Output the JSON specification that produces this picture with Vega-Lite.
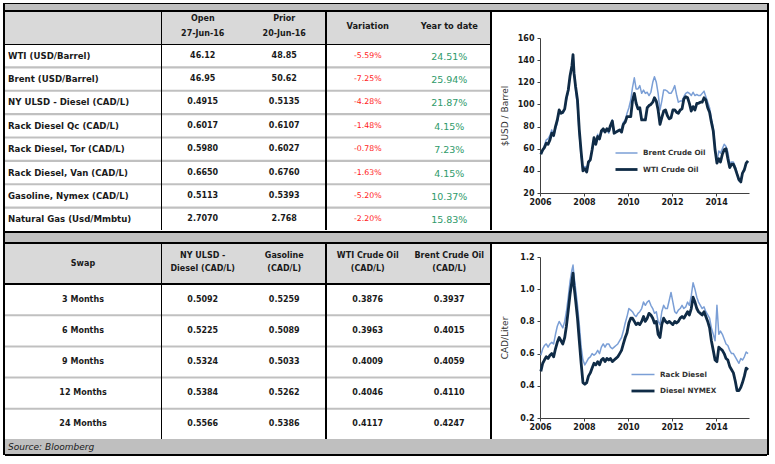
{
"$schema": "https://vega.github.io/schema/vega-lite/v6.json",
"background": "white",
"padding": {"left": 3, "top": 3, "right": 0, "bottom": 0},
"config": {"font": "DejaVu Sans", "view": {"stroke": null}, "concat": {"spacing": 0}},
"datasets": {
"top": [
{"name": "WTI (USD/Barrel)", "open": "46.12", "prior": "48.85", "variation": "-5.59%", "ytd": "24.51%"},
{"name": "Brent (USD/Barrel)", "open": "46.95", "prior": "50.62", "variation": "-7.25%", "ytd": "25.94%"},
{"name": "NY ULSD - Diesel (CAD/L)", "open": "0.4915", "prior": "0.5135", "variation": "-4.28%", "ytd": "21.87%"},
{"name": "Rack Diesel Qc (CAD/L)", "open": "0.6017", "prior": "0.6107", "variation": "-1.48%", "ytd": "4.15%"},
{"name": "Rack Diesel, Tor (CAD/L)", "open": "0.5980", "prior": "0.6027", "variation": "-0.78%", "ytd": "7.23%"},
{"name": "Rack Diesel, Van (CAD/L)", "open": "0.6650", "prior": "0.6760", "variation": "-1.63%", "ytd": "4.15%"},
{"name": "Gasoline, Nymex (CAD/L)", "open": "0.5113", "prior": "0.5393", "variation": "-5.20%", "ytd": "10.37%"},
{"name": "Natural Gas (Usd/Mmbtu)", "open": "2.7070", "prior": "2.768", "variation": "-2.20%", "ytd": "15.83%"}
],
"swap": [
{"tenor": "3 Months", "ulsd": "0.5092", "gasoline": "0.5259", "wti": "0.3876", "brent": "0.3937"},
{"tenor": "6 Months", "ulsd": "0.5225", "gasoline": "0.5089", "wti": "0.3963", "brent": "0.4015"},
{"tenor": "9 Months", "ulsd": "0.5324", "gasoline": "0.5033", "wti": "0.4009", "brent": "0.4059"},
{"tenor": "12 Months", "ulsd": "0.5384", "gasoline": "0.5262", "wti": "0.4046", "brent": "0.4110"},
{"tenor": "24 Months", "ulsd": "0.5566", "gasoline": "0.5386", "wti": "0.4117", "brent": "0.4247"}
],
"crude": [
{"date":"2006-01-15","brent":55,"wti":55},
{"date":"2006-02-15","brent":58,"wti":59},
{"date":"2006-03-15","brent":63,"wti":61},
{"date":"2006-04-15","brent":68,"wti":65},
{"date":"2006-05-15","brent":69,"wti":64},
{"date":"2006-06-15","brent":72,"wti":68},
{"date":"2006-07-15","brent":77,"wti":74},
{"date":"2006-08-15","brent":71,"wti":72},
{"date":"2006-09-15","brent":78,"wti":80},
{"date":"2006-10-15","brent":83,"wti":86},
{"date":"2006-11-15","brent":93,"wti":95},
{"date":"2006-12-15","brent":92,"wti":92},
{"date":"2007-01-15","brent":92,"wti":93},
{"date":"2007-02-15","brent":95,"wti":96},
{"date":"2007-03-15","brent":104,"wti":106},
{"date":"2007-04-15","brent":111,"wti":113},
{"date":"2007-05-15","brent":126,"wti":126},
{"date":"2007-06-15","brent":134,"wti":135},
{"date":"2007-07-03","brent":144,"wti":145},
{"date":"2007-07-20","brent":132,"wti":128},
{"date":"2007-08-15","brent":113,"wti":116},
{"date":"2007-09-15","brent":98,"wti":104},
{"date":"2007-10-15","brent":72,"wti":77},
{"date":"2007-11-15","brent":53,"wti":57},
{"date":"2007-12-15","brent":41,"wti":40},
{"date":"2008-01-15","brent":44,"wti":42},
{"date":"2008-02-15","brent":43,"wti":39},
{"date":"2008-03-15","brent":47,"wti":48},
{"date":"2008-04-15","brent":51,"wti":50},
{"date":"2008-05-15","brent":58,"wti":59},
{"date":"2008-06-15","brent":69,"wti":70},
{"date":"2008-07-15","brent":65,"wti":64},
{"date":"2008-08-15","brent":73,"wti":71},
{"date":"2008-09-15","brent":68,"wti":69},
{"date":"2008-10-15","brent":74,"wti":76},
{"date":"2008-11-15","brent":77,"wti":78},
{"date":"2008-12-15","brent":75,"wti":75},
{"date":"2009-01-15","brent":77,"wti":78},
{"date":"2009-02-15","brent":74,"wti":76},
{"date":"2009-03-15","brent":79,"wti":81},
{"date":"2009-04-15","brent":86,"wti":85},
{"date":"2009-05-15","brent":76,"wti":74},
{"date":"2009-06-15","brent":75,"wti":75},
{"date":"2009-07-15","brent":76,"wti":76},
{"date":"2009-08-15","brent":77,"wti":77},
{"date":"2009-09-15","brent":78,"wti":75},
{"date":"2009-10-15","brent":84,"wti":82},
{"date":"2009-11-15","brent":86,"wti":84},
{"date":"2009-12-15","brent":92,"wti":89},
{"date":"2010-01-15","brent":97,"wti":89},
{"date":"2010-02-15","brent":104,"wti":89},
{"date":"2010-03-15","brent":115,"wti":103},
{"date":"2010-04-15","brent":124,"wti":110},
{"date":"2010-05-15","brent":114,"wti":101},
{"date":"2010-06-15","brent":114,"wti":96},
{"date":"2010-07-15","brent":117,"wti":97},
{"date":"2010-08-15","brent":110,"wti":86},
{"date":"2010-09-15","brent":113,"wti":86},
{"date":"2010-10-15","brent":110,"wti":86},
{"date":"2010-11-15","brent":111,"wti":97},
{"date":"2010-12-15","brent":108,"wti":99},
{"date":"2011-01-15","brent":111,"wti":100},
{"date":"2011-02-15","brent":120,"wti":102},
{"date":"2011-03-15","brent":125,"wti":106},
{"date":"2011-04-15","brent":120,"wti":103},
{"date":"2011-05-15","brent":110,"wti":95},
{"date":"2011-06-15","brent":95,"wti":82},
{"date":"2011-07-15","brent":103,"wti":88},
{"date":"2011-08-15","brent":113,"wti":94},
{"date":"2011-09-15","brent":113,"wti":95},
{"date":"2011-10-15","brent":112,"wti":90},
{"date":"2011-11-15","brent":110,"wti":87},
{"date":"2011-12-15","brent":110,"wti":88},
{"date":"2012-01-15","brent":113,"wti":95},
{"date":"2012-02-15","brent":117,"wti":95},
{"date":"2012-03-15","brent":109,"wti":93},
{"date":"2012-04-15","brent":102,"wti":92},
{"date":"2012-05-15","brent":103,"wti":95},
{"date":"2012-06-15","brent":103,"wti":96},
{"date":"2012-07-15","brent":107,"wti":105},
{"date":"2012-08-15","brent":110,"wti":107},
{"date":"2012-09-15","brent":111,"wti":106},
{"date":"2012-10-15","brent":110,"wti":101},
{"date":"2012-11-15","brent":108,"wti":94},
{"date":"2012-12-15","brent":111,"wti":98},
{"date":"2013-01-15","brent":108,"wti":95},
{"date":"2013-02-15","brent":109,"wti":101},
{"date":"2013-03-15","brent":108,"wti":101},
{"date":"2013-04-15","brent":108,"wti":102},
{"date":"2013-05-15","brent":110,"wti":102},
{"date":"2013-06-15","brent":112,"wti":106},
{"date":"2013-07-15","brent":107,"wti":104},
{"date":"2013-08-15","brent":102,"wti":97},
{"date":"2013-09-15","brent":97,"wti":93},
{"date":"2013-10-15","brent":87,"wti":84},
{"date":"2013-11-15","brent":79,"wti":76},
{"date":"2013-12-15","brent":62,"wti":59},
{"date":"2014-01-15","brent":48,"wti":47},
{"date":"2014-02-15","brent":58,"wti":51},
{"date":"2014-03-15","brent":56,"wti":48},
{"date":"2014-04-15","brent":60,"wti":55},
{"date":"2014-05-15","brent":64,"wti":59},
{"date":"2014-06-15","brent":62,"wti":60},
{"date":"2014-07-15","brent":57,"wti":51},
{"date":"2014-08-15","brent":47,"wti":43},
{"date":"2014-09-15","brent":48,"wti":46},
{"date":"2014-10-15","brent":48,"wti":46},
{"date":"2014-11-15","brent":44,"wti":42},
{"date":"2014-12-15","brent":38,"wti":37},
{"date":"2015-01-15","brent":31,"wti":32},
{"date":"2015-02-15","brent":32,"wti":30},
{"date":"2015-03-15","brent":38,"wti":38},
{"date":"2015-04-15","brent":42,"wti":41},
{"date":"2015-05-15","brent":47,"wti":47},
{"date":"2015-06-15","brent":48,"wti":49}
],
"diesel": [
{"date":"2006-01-15","rack":0.59,"nymex":0.49},
{"date":"2006-02-15","rack":0.63,"nymex":0.54},
{"date":"2006-03-15","rack":0.65,"nymex":0.56},
{"date":"2006-04-15","rack":0.66,"nymex":0.58},
{"date":"2006-05-15","rack":0.64,"nymex":0.57},
{"date":"2006-06-15","rack":0.66,"nymex":0.59},
{"date":"2006-07-15","rack":0.67,"nymex":0.60},
{"date":"2006-08-15","rack":0.66,"nymex":0.58},
{"date":"2006-09-15","rack":0.72,"nymex":0.63},
{"date":"2006-10-15","rack":0.77,"nymex":0.67},
{"date":"2006-11-15","rack":0.80,"nymex":0.70},
{"date":"2006-12-15","rack":0.78,"nymex":0.68},
{"date":"2007-01-15","rack":0.76,"nymex":0.66},
{"date":"2007-02-15","rack":0.80,"nymex":0.70},
{"date":"2007-03-15","rack":0.86,"nymex":0.77},
{"date":"2007-04-15","rack":0.95,"nymex":0.87},
{"date":"2007-05-15","rack":1.05,"nymex":0.97},
{"date":"2007-06-15","rack":1.12,"nymex":1.05},
{"date":"2007-07-03","rack":1.15,"nymex":1.10},
{"date":"2007-07-20","rack":1.08,"nymex":1.02},
{"date":"2007-08-15","rack":1.00,"nymex":0.93},
{"date":"2007-09-15","rack":0.90,"nymex":0.82},
{"date":"2007-10-15","rack":0.78,"nymex":0.68},
{"date":"2007-11-15","rack":0.64,"nymex":0.54},
{"date":"2007-12-15","rack":0.56,"nymex":0.42},
{"date":"2008-01-15","rack":0.53,"nymex":0.41},
{"date":"2008-02-15","rack":0.55,"nymex":0.42},
{"date":"2008-03-15","rack":0.57,"nymex":0.46},
{"date":"2008-04-15","rack":0.58,"nymex":0.48},
{"date":"2008-05-15","rack":0.60,"nymex":0.51},
{"date":"2008-06-15","rack":0.59,"nymex":0.54},
{"date":"2008-07-15","rack":0.60,"nymex":0.53},
{"date":"2008-08-15","rack":0.62,"nymex":0.55},
{"date":"2008-09-15","rack":0.60,"nymex":0.53},
{"date":"2008-10-15","rack":0.64,"nymex":0.56},
{"date":"2008-11-15","rack":0.66,"nymex":0.57},
{"date":"2008-12-15","rack":0.64,"nymex":0.55},
{"date":"2009-01-15","rack":0.66,"nymex":0.57},
{"date":"2009-02-15","rack":0.66,"nymex":0.56},
{"date":"2009-03-15","rack":0.64,"nymex":0.57},
{"date":"2009-04-15","rack":0.63,"nymex":0.55},
{"date":"2009-05-15","rack":0.64,"nymex":0.56},
{"date":"2009-06-15","rack":0.65,"nymex":0.57},
{"date":"2009-07-15","rack":0.66,"nymex":0.58},
{"date":"2009-08-15","rack":0.68,"nymex":0.60},
{"date":"2009-09-15","rack":0.70,"nymex":0.62},
{"date":"2009-10-15","rack":0.74,"nymex":0.66},
{"date":"2009-11-15","rack":0.79,"nymex":0.70},
{"date":"2009-12-15","rack":0.83,"nymex":0.73},
{"date":"2010-01-15","rack":0.88,"nymex":0.79},
{"date":"2010-02-15","rack":0.87,"nymex":0.82},
{"date":"2010-03-15","rack":0.86,"nymex":0.82},
{"date":"2010-04-15","rack":0.84,"nymex":0.80},
{"date":"2010-05-15","rack":0.83,"nymex":0.78},
{"date":"2010-06-15","rack":0.85,"nymex":0.79},
{"date":"2010-07-15","rack":0.86,"nymex":0.78},
{"date":"2010-08-15","rack":0.88,"nymex":0.80},
{"date":"2010-09-15","rack":0.92,"nymex":0.83},
{"date":"2010-10-15","rack":0.90,"nymex":0.80},
{"date":"2010-11-15","rack":0.92,"nymex":0.82},
{"date":"2010-12-15","rack":0.93,"nymex":0.85},
{"date":"2011-01-15","rack":0.90,"nymex":0.84},
{"date":"2011-02-15","rack":0.88,"nymex":0.82},
{"date":"2011-03-15","rack":0.85,"nymex":0.79},
{"date":"2011-04-15","rack":0.86,"nymex":0.80},
{"date":"2011-05-15","rack":0.80,"nymex":0.72},
{"date":"2011-06-15","rack":0.78,"nymex":0.70},
{"date":"2011-07-15","rack":0.86,"nymex":0.78},
{"date":"2011-08-15","rack":0.90,"nymex":0.82},
{"date":"2011-09-15","rack":0.88,"nymex":0.80},
{"date":"2011-10-15","rack":0.88,"nymex":0.79},
{"date":"2011-11-15","rack":0.93,"nymex":0.80},
{"date":"2011-12-15","rack":0.98,"nymex":0.79},
{"date":"2012-01-15","rack":0.92,"nymex":0.78},
{"date":"2012-02-15","rack":0.86,"nymex":0.80},
{"date":"2012-03-15","rack":0.85,"nymex":0.79},
{"date":"2012-04-15","rack":0.87,"nymex":0.80},
{"date":"2012-05-15","rack":0.88,"nymex":0.82},
{"date":"2012-06-15","rack":0.90,"nymex":0.83},
{"date":"2012-07-15","rack":0.88,"nymex":0.82},
{"date":"2012-08-15","rack":0.89,"nymex":0.84},
{"date":"2012-09-15","rack":0.92,"nymex":0.86},
{"date":"2012-10-15","rack":0.90,"nymex":0.84},
{"date":"2012-11-15","rack":0.96,"nymex":0.88},
{"date":"2012-12-15","rack":1.04,"nymex":0.95},
{"date":"2013-01-15","rack":1.00,"nymex":0.92},
{"date":"2013-02-15","rack":0.95,"nymex":0.88},
{"date":"2013-03-15","rack":0.92,"nymex":0.86},
{"date":"2013-04-15","rack":0.90,"nymex":0.85},
{"date":"2013-05-15","rack":0.88,"nymex":0.84},
{"date":"2013-06-15","rack":0.89,"nymex":0.86},
{"date":"2013-07-15","rack":0.86,"nymex":0.83},
{"date":"2013-08-15","rack":0.84,"nymex":0.80},
{"date":"2013-09-15","rack":0.82,"nymex":0.76},
{"date":"2013-10-15","rack":0.76,"nymex":0.68},
{"date":"2013-11-15","rack":0.72,"nymex":0.62},
{"date":"2013-12-15","rack":0.68,"nymex":0.56},
{"date":"2014-01-15","rack":0.90,"nymex":0.55},
{"date":"2014-02-15","rack":0.72,"nymex":0.64},
{"date":"2014-03-15","rack":0.74,"nymex":0.63},
{"date":"2014-04-15","rack":0.72,"nymex":0.62},
{"date":"2014-05-15","rack":0.69,"nymex":0.60},
{"date":"2014-06-15","rack":0.66,"nymex":0.57},
{"date":"2014-07-15","rack":0.65,"nymex":0.56},
{"date":"2014-08-15","rack":0.62,"nymex":0.52},
{"date":"2014-09-15","rack":0.60,"nymex":0.50},
{"date":"2014-10-15","rack":0.60,"nymex":0.48},
{"date":"2014-11-15","rack":0.58,"nymex":0.43},
{"date":"2014-12-15","rack":0.56,"nymex":0.37},
{"date":"2015-01-15","rack":0.54,"nymex":0.37},
{"date":"2015-02-15","rack":0.57,"nymex":0.39},
{"date":"2015-03-15","rack":0.56,"nymex":0.42},
{"date":"2015-04-15","rack":0.58,"nymex":0.46},
{"date":"2015-05-15","rack":0.61,"nymex":0.51},
{"date":"2015-06-15","rack":0.60,"nymex":0.50}
],
"none": []
},
"spacing": 0,
"resolve": {"scale": {"color": "independent", "strokeWidth": "independent"}, "legend": {"color": "independent", "strokeWidth": "independent"}},
"hconcat": [
{"width": 2, "height": 452, "data": {"name": "none"}, "view": {"fill": "black"}, "mark": {"type": "text"}, "encoding": {}},
{"spacing": 0, "resolve": {"scale": {"color": "independent", "strokeWidth": "independent"}, "legend": {"color": "independent", "strokeWidth": "independent"}}, "vconcat": [
  {"width": 762, "height": 1, "data": {"name": "none"}, "view": {"fill": "black"}, "mark": {"type": "text"}, "encoding": {}},
  {"width": 762, "height": 6, "data": {"name": "none"}, "view": {"fill": "#c0c0c0"}, "mark": {"type": "text"}, "encoding": {}},
  {"width": 762, "height": 2, "data": {"name": "none"}, "view": {"fill": "black"}, "mark": {"type": "text"}, "encoding": {}},
  {"spacing": 0, "resolve": {"scale": {"color": "independent", "strokeWidth": "independent"}, "legend": {"color": "independent", "strokeWidth": "independent"}}, "hconcat": [
    {"spacing": 0, "vconcat": [
      {"spacing": 0, "hconcat": [
        {"width": 156, "height": 32, "data": {"name": "none"}, "view": {"fill": "#d9d9d9"}, "mark": {"type": "text"}, "encoding": {}},
        {"width": 1, "height": 32, "data": {"name": "none"}, "view": {"fill": "black"}, "mark": {"type": "text"}, "encoding": {}},
        {"width": 163, "height": 32, "data": {"values": [{"col": "open", "label": "Open\n27-Jun-16"}, {"col": "prior", "label": "Prior\n20-Jun-16"}]}, "view": {"fill": "#d9d9d9"},
         "mark": {"type": "text", "lineBreak": "\n", "lineHeight": 15, "fontSize": 8, "fontWeight": "bold", "color": "#1a1a1a", "dy": -9},
         "encoding": {"x": {"field": "col", "type": "nominal", "sort": null, "scale": {"type": "band", "paddingInner": 0, "paddingOuter": 0}, "axis": null}, "text": {"field": "label"}}},
        {"width": 2, "height": 32, "data": {"name": "none"}, "view": {"fill": "black"}, "mark": {"type": "text"}, "encoding": {}},
        {"width": 163, "height": 32, "data": {"values": [{"col": "variation", "label": "Variation"}, {"col": "ytd", "label": "Year to date"}]}, "view": {"fill": "#d9d9d9"},
         "mark": {"type": "text", "fontSize": 8.3, "fontWeight": "bold", "color": "#1a1a1a", "dy": -1},
         "encoding": {"x": {"field": "col", "type": "nominal", "sort": null, "scale": {"type": "band", "paddingInner": 0, "paddingOuter": 0}, "axis": null}, "text": {"field": "label"}}}
      ]},
      {"width": 485, "height": 1, "data": {"name": "none"}, "view": {"fill": "black"}, "mark": {"type": "text"}, "encoding": {}},
      {"spacing": 0, "hconcat": [
        {"width": 156, "height": 185, "data": {"name": "top"}, "view": {"fill": "#c0c0c0"},
         "layer": [
          {"mark": {"type": "rect", "color": "white"},
           "encoding": {"y": {"field": "name", "type": "nominal", "sort": null, "scale": {"type": "band", "paddingInner": 0.0856, "paddingOuter": 0}, "axis": null}}},
          {"mark": {"type": "text", "align": "left", "dx": 3, "fontSize": 8.6, "fontWeight": "bold", "color": "#1a1a1a"},
           "encoding": {"x": {"value": 0}, "y": {"field": "name", "type": "nominal", "sort": null, "axis": null}, "text": {"field": "name"}}}
         ]},
        {"width": 1, "height": 185, "data": {"name": "none"}, "view": {"fill": "black"}, "mark": {"type": "text"}, "encoding": {}},
        {"width": 163, "height": 185, "data": {"name": "top"}, "view": {"fill": "#c0c0c0"},
         "layer": [
          {"mark": {"type": "rect", "color": "white"},
           "encoding": {"y": {"field": "name", "type": "nominal", "sort": null, "scale": {"type": "band", "paddingInner": 0.0856, "paddingOuter": 0}, "axis": null}}},
          {"mark": {"type": "text", "fontSize": 8, "fontWeight": "bold", "color": "#1a1a1a"},
           "encoding": {"x": {"datum": "open", "type": "nominal", "scale": {"type": "band", "paddingInner": 0, "paddingOuter": 0}, "axis": null}, "y": {"field": "name", "type": "nominal", "sort": null, "axis": null}, "text": {"field": "open"}}},
          {"mark": {"type": "text", "fontSize": 8, "fontWeight": "bold", "color": "#1a1a1a"},
           "encoding": {"x": {"datum": "prior", "type": "nominal", "axis": null}, "y": {"field": "name", "type": "nominal", "sort": null, "axis": null}, "text": {"field": "prior"}}}
         ]},
        {"width": 2, "height": 185, "data": {"name": "none"}, "view": {"fill": "black"}, "mark": {"type": "text"}, "encoding": {}},
        {"width": 163, "height": 185, "data": {"name": "top"}, "view": {"fill": "#c0c0c0"},
         "layer": [
          {"mark": {"type": "rect", "color": "white"},
           "encoding": {"y": {"field": "name", "type": "nominal", "sort": null, "scale": {"type": "band", "paddingInner": 0.0856, "paddingOuter": 0}, "axis": null}}},
          {"mark": {"type": "text", "fontSize": 7.8, "color": "#ff1a1a"},
           "encoding": {"x": {"datum": "variation", "type": "nominal", "scale": {"type": "band", "paddingInner": 0, "paddingOuter": 0}, "axis": null}, "y": {"field": "name", "type": "nominal", "sort": null, "axis": null}, "text": {"field": "variation"}}},
          {"mark": {"type": "text", "fontSize": 9.5, "color": "#2e9a6a", "dy": 1},
           "encoding": {"x": {"datum": "ytd", "type": "nominal", "axis": null}, "y": {"field": "name", "type": "nominal", "sort": null, "axis": null}, "text": {"field": "ytd"}}}
         ]}
      ]}
    ]},
    {"width": 2, "height": 218, "data": {"name": "none"}, "view": {"fill": "black"}, "mark": {"type": "text"}, "encoding": {}},
    {"width": 275, "height": 218, "data": {"name": "crude"}, "view": {"fill": "white"},
     "transform": [{"fold": ["brent", "wti"], "as": ["series", "price"]}],
     "mark": {"type": "line", "strokeJoin": "round"},
     "encoding": {
       "x": {"field": "date", "type": "temporal",
         "scale": {"domain": [{"year": 2006, "month": 1, "date": 1}, {"year": 2015, "month": 7, "date": 1}], "range": [48, 257]},
         "axis": {"values": [{"year": 2006}, {"year": 2008}, {"year": 2010}, {"year": 2012}, {"year": 2014}], "format": "%Y", "offset": -37, "title": null, "grid": false, "domainColor": "#404040", "tickColor": "#404040", "tickSize": 3, "labelFontSize": 8, "labelFontWeight": "bold", "labelColor": "#1a1a1a", "labelPadding": 2, "labelFlush": false, "labelOverlap": false}},
       "y": {"field": "price", "type": "quantitative",
         "scale": {"domain": [20, 160], "range": [181, 26], "nice": false, "zero": false},
         "axis": {"values": [20, 40, 60, 80, 100, 120, 140, 160], "offset": -48, "title": "$USD / Barrel", "titleFontSize": 9, "titleFontWeight": "normal", "titleColor": "#333333", "titlePadding": 8, "grid": false, "domainColor": "#404040", "tickColor": "#404040", "tickSize": 3, "labelFontSize": 8, "labelFontWeight": "bold", "labelColor": "#1a1a1a", "labelPadding": 3}},
       "color": {"field": "series", "type": "ordinal", "scale": {"domain": ["brent", "wti"], "range": ["#7b9fd6", "#0f2b46"]},
         "legend": {"orient": "none", "legendX": 122, "legendY": 129, "title": null, "symbolType": "stroke", "symbolSize": 484, "labelFontSize": 7.2, "labelFontWeight": "bold", "labelColor": "#333333", "rowPadding": 0, "padding": 0, "labelExpr": "datum.label == 'brent' ? 'Brent Crude Oil' : 'WTI Crude Oil'"}},
       "strokeWidth": {"field": "series", "type": "ordinal", "scale": {"domain": ["brent", "wti"], "range": [1.5, 2.8]},
         "legend": {"orient": "none", "legendX": 122, "legendY": 129, "title": null, "symbolType": "stroke", "symbolSize": 484, "labelFontSize": 7.2, "labelFontWeight": "bold", "labelColor": "#333333", "rowPadding": 0, "padding": 0, "labelExpr": "datum.label == 'brent' ? 'Brent Crude Oil' : 'WTI Crude Oil'"}}
     }}
  ]},
  {"width": 762, "height": 2, "data": {"name": "none"}, "view": {"fill": "black"}, "mark": {"type": "text"}, "encoding": {}},
  {"width": 762, "height": 9, "data": {"name": "none"}, "view": {"fill": "#c0c0c0"}, "mark": {"type": "text"}, "encoding": {}},
  {"width": 762, "height": 2, "data": {"name": "none"}, "view": {"fill": "black"}, "mark": {"type": "text"}, "encoding": {}},
  {"spacing": 0, "resolve": {"scale": {"color": "independent", "strokeWidth": "independent"}, "legend": {"color": "independent", "strokeWidth": "independent"}}, "hconcat": [
    {"spacing": 0, "vconcat": [
      {"spacing": 0, "hconcat": [
        {"width": 156, "height": 39, "data": {"values": [{"label": "Swap"}]}, "view": {"fill": "#d9d9d9"},
         "mark": {"type": "text", "fontSize": 8, "fontWeight": "bold", "color": "#1a1a1a"}, "encoding": {"text": {"field": "label"}}},
        {"width": 1, "height": 39, "data": {"name": "none"}, "view": {"fill": "black"}, "mark": {"type": "text"}, "encoding": {}},
        {"width": 163, "height": 39, "data": {"values": [{"col": "ulsd", "label": "NY ULSD -\nDiesel (CAD/L)"}, {"col": "gasoline", "label": "Gasoline\n(CAD/L)"}]}, "view": {"fill": "#d9d9d9"},
         "mark": {"type": "text", "lineBreak": "\n", "lineHeight": 13, "fontSize": 8, "fontWeight": "bold", "color": "#1a1a1a", "dy": -7.5},
         "encoding": {"x": {"field": "col", "type": "nominal", "sort": null, "scale": {"type": "band", "paddingInner": 0, "paddingOuter": 0}, "axis": null}, "text": {"field": "label"}}},
        {"width": 2, "height": 39, "data": {"name": "none"}, "view": {"fill": "black"}, "mark": {"type": "text"}, "encoding": {}},
        {"width": 163, "height": 39, "data": {"values": [{"col": "wti", "label": "WTI Crude Oil\n(CAD/L)"}, {"col": "brent", "label": "Brent Crude Oil\n(CAD/L)"}]}, "view": {"fill": "#d9d9d9"},
         "mark": {"type": "text", "lineBreak": "\n", "lineHeight": 13, "fontSize": 8, "fontWeight": "bold", "color": "#1a1a1a", "dy": -7.5},
         "encoding": {"x": {"field": "col", "type": "nominal", "sort": null, "scale": {"type": "band", "paddingInner": 0, "paddingOuter": 0}, "axis": null}, "text": {"field": "label"}}}
      ]},
      {"width": 485, "height": 2, "data": {"name": "none"}, "view": {"fill": "black"}, "mark": {"type": "text"}, "encoding": {}},
      {"spacing": 0, "hconcat": [
        {"width": 156, "height": 154, "data": {"name": "swap"}, "view": {"fill": "#c0c0c0"},
         "layer": [
          {"mark": {"type": "rect", "color": "white"},
           "encoding": {"y": {"field": "tenor", "type": "nominal", "sort": null, "scale": {"type": "band", "paddingInner": 0.0641, "paddingOuter": 0}, "axis": null}}},
          {"mark": {"type": "text", "fontSize": 8, "fontWeight": "bold", "color": "#1a1a1a"},
           "encoding": {"y": {"field": "tenor", "type": "nominal", "sort": null, "axis": null}, "text": {"field": "tenor"}}}
         ]},
        {"width": 1, "height": 154, "data": {"name": "none"}, "view": {"fill": "black"}, "mark": {"type": "text"}, "encoding": {}},
        {"width": 163, "height": 154, "data": {"name": "swap"}, "view": {"fill": "#c0c0c0"},
         "layer": [
          {"mark": {"type": "rect", "color": "white"},
           "encoding": {"y": {"field": "tenor", "type": "nominal", "sort": null, "scale": {"type": "band", "paddingInner": 0.0641, "paddingOuter": 0}, "axis": null}}},
          {"mark": {"type": "text", "fontSize": 8, "fontWeight": "bold", "color": "#1a1a1a"},
           "encoding": {"x": {"datum": "ulsd", "type": "nominal", "scale": {"type": "band", "paddingInner": 0, "paddingOuter": 0}, "axis": null}, "y": {"field": "tenor", "type": "nominal", "sort": null, "axis": null}, "text": {"field": "ulsd"}}},
          {"mark": {"type": "text", "fontSize": 8, "fontWeight": "bold", "color": "#1a1a1a"},
           "encoding": {"x": {"datum": "gasoline", "type": "nominal", "axis": null}, "y": {"field": "tenor", "type": "nominal", "sort": null, "axis": null}, "text": {"field": "gasoline"}}}
         ]},
        {"width": 2, "height": 154, "data": {"name": "none"}, "view": {"fill": "black"}, "mark": {"type": "text"}, "encoding": {}},
        {"width": 163, "height": 154, "data": {"name": "swap"}, "view": {"fill": "#c0c0c0"},
         "layer": [
          {"mark": {"type": "rect", "color": "white"},
           "encoding": {"y": {"field": "tenor", "type": "nominal", "sort": null, "scale": {"type": "band", "paddingInner": 0.0641, "paddingOuter": 0}, "axis": null}}},
          {"mark": {"type": "text", "fontSize": 8, "fontWeight": "bold", "color": "#1a1a1a"},
           "encoding": {"x": {"datum": "wti", "type": "nominal", "scale": {"type": "band", "paddingInner": 0, "paddingOuter": 0}, "axis": null}, "y": {"field": "tenor", "type": "nominal", "sort": null, "axis": null}, "text": {"field": "wti"}}},
          {"mark": {"type": "text", "fontSize": 8, "fontWeight": "bold", "color": "#1a1a1a"},
           "encoding": {"x": {"datum": "brent", "type": "nominal", "axis": null}, "y": {"field": "tenor", "type": "nominal", "sort": null, "axis": null}, "text": {"field": "brent"}}}
         ]}
      ]}
    ]},
    {"width": 2, "height": 195, "data": {"name": "none"}, "view": {"fill": "black"}, "mark": {"type": "text"}, "encoding": {}},
    {"width": 275, "height": 195, "data": {"name": "diesel"}, "view": {"fill": "white"},
     "transform": [{"fold": ["rack", "nymex"], "as": ["series", "price"]}],
     "mark": {"type": "line", "strokeJoin": "round"},
     "encoding": {
       "x": {"field": "date", "type": "temporal",
         "scale": {"domain": [{"year": 2006, "month": 1, "date": 1}, {"year": 2015, "month": 7, "date": 1}], "range": [48, 257]},
         "axis": {"values": [{"year": 2006}, {"year": 2008}, {"year": 2010}, {"year": 2012}, {"year": 2014}], "format": "%Y", "offset": -21, "title": null, "grid": false, "domainColor": "#404040", "tickColor": "#404040", "tickSize": 3, "labelFontSize": 8, "labelFontWeight": "bold", "labelColor": "#1a1a1a", "labelPadding": 2, "labelFlush": false, "labelOverlap": false}},
       "y": {"field": "price", "type": "quantitative",
         "scale": {"domain": [0.2, 1.2], "range": [174, 13], "nice": false, "zero": false},
         "axis": {"values": [0.2, 0.4, 0.6, 0.8, 1.0, 1.2], "format": ".1f", "offset": -48, "title": "CAD/Liter", "titleFontSize": 9, "titleFontWeight": "normal", "titleColor": "#333333", "titlePadding": 10, "grid": false, "domainColor": "#404040", "tickColor": "#404040", "tickSize": 3, "labelFontSize": 8, "labelFontWeight": "bold", "labelColor": "#1a1a1a", "labelPadding": 3}},
       "color": {"field": "series", "type": "ordinal", "scale": {"domain": ["rack", "nymex"], "range": ["#7b9fd6", "#0f2b46"]},
         "legend": {"orient": "none", "legendX": 138, "legendY": 118, "title": null, "symbolType": "stroke", "symbolSize": 529, "labelFontSize": 7.2, "labelFontWeight": "bold", "labelColor": "#333333", "rowPadding": 0, "padding": 0, "labelExpr": "datum.label == 'rack' ? 'Rack Diesel' : 'Diesel NYMEX'"}},
       "strokeWidth": {"field": "series", "type": "ordinal", "scale": {"domain": ["rack", "nymex"], "range": [1.5, 2.8]},
         "legend": {"orient": "none", "legendX": 138, "legendY": 118, "title": null, "symbolType": "stroke", "symbolSize": 529, "labelFontSize": 7.2, "labelFontWeight": "bold", "labelColor": "#333333", "rowPadding": 0, "padding": 0, "labelExpr": "datum.label == 'rack' ? 'Rack Diesel' : 'Diesel NYMEX'"}}
     }}
  ]},
  {"width": 762, "height": 15, "data": {"values": [{"source": "Source: Bloomberg"}]}, "view": {"fill": "#bfbfbf"},
   "mark": {"type": "text", "align": "left", "dx": 3, "fontSize": 9, "fontStyle": "italic", "color": "#1a1a1a"},
   "encoding": {"x": {"value": 0}, "text": {"field": "source"}}},
  {"width": 762, "height": 2, "data": {"name": "none"}, "view": {"fill": "black"}, "mark": {"type": "text"}, "encoding": {}}
]},
{"width": 2, "height": 452, "data": {"name": "none"}, "view": {"fill": "black"}, "mark": {"type": "text"}, "encoding": {}}
]
}
